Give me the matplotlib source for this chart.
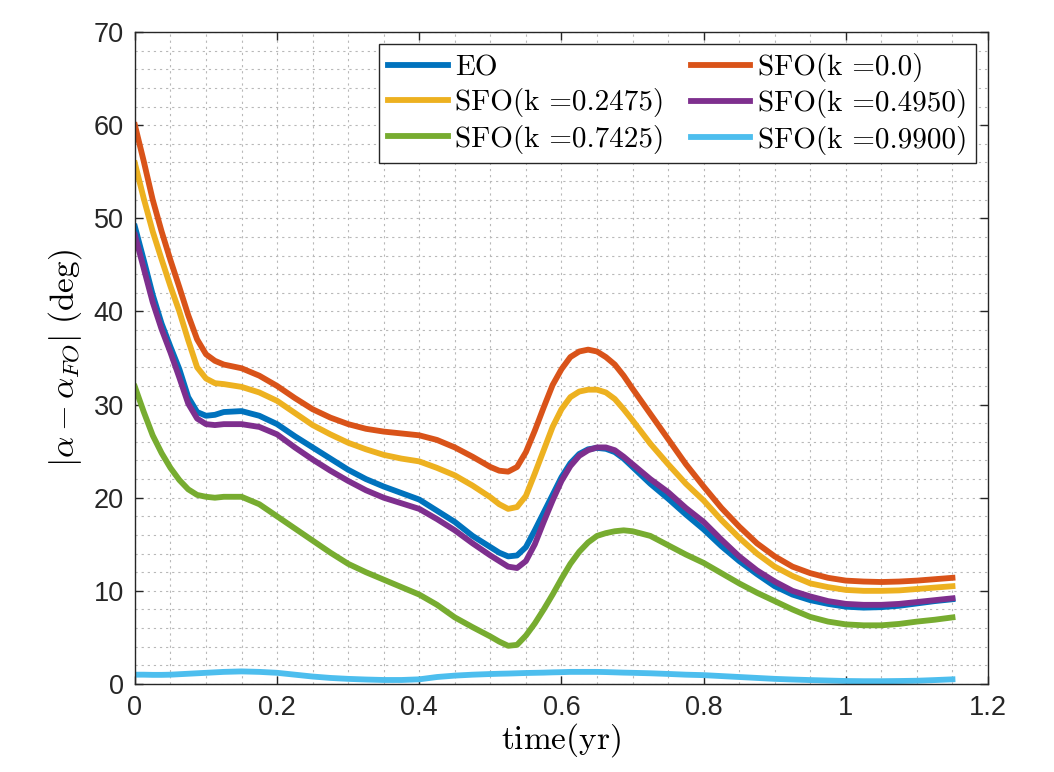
import matplotlib
matplotlib.use("Agg")
import matplotlib.pyplot as plt
from matplotlib.ticker import MultipleLocator

plt.rcParams['font.family'] = ['Liberation Sans', 'DejaVu Sans']
plt.rcParams['mathtext.fontset'] = 'cm'

# time (yr)
t = [0, 0.0125, 0.025, 0.0375, 0.05, 0.0625, 0.075, 0.0875, 0.1, 0.1125,
     0.125, 0.15, 0.175, 0.2, 0.225, 0.25, 0.275, 0.3, 0.325, 0.35,
     0.375, 0.4, 0.425, 0.45, 0.475, 0.5, 0.5125, 0.525, 0.5375, 0.55,
     0.5625, 0.575, 0.5875, 0.6, 0.6125, 0.625, 0.6375, 0.65, 0.6625, 0.675,
     0.6875, 0.7, 0.725, 0.75, 0.775, 0.8, 0.825, 0.85, 0.875, 0.9,
     0.925, 0.95, 0.975, 1.0, 1.025, 1.05, 1.075, 1.1, 1.125, 1.15]

eo = [49.1, 45.5, 41.8, 38.7, 36.2, 33.8, 30.8, 29.2, 28.8, 28.9,
      29.2, 29.3, 28.8, 27.9, 26.6, 25.4, 24.2, 23.0, 22.0, 21.2,
      20.5, 19.8, 18.6, 17.4, 15.9, 14.7, 14.1, 13.7, 13.8, 14.7,
      16.5, 18.4, 20.3, 22.2, 23.7, 24.7, 25.2, 25.35, 25.25, 24.9,
      24.2, 23.3, 21.5, 19.9, 18.2, 16.6, 14.8, 13.2, 11.8, 10.5,
      9.6, 9.0, 8.6, 8.3, 8.2, 8.25, 8.4, 8.65, 8.9, 9.1]

sfo_0 = [60.0, 56.1, 52.0, 48.6, 45.5, 42.6, 39.6, 37.0, 35.4, 34.7,
         34.3, 33.9, 33.1, 32.0, 30.7, 29.5, 28.6, 27.9, 27.4, 27.1,
         26.9, 26.7, 26.2, 25.4, 24.4, 23.3, 22.9, 22.8, 23.3, 24.9,
         27.2, 29.7, 32.1, 33.8, 35.1, 35.7, 35.9, 35.7, 35.1, 34.3,
         33.1, 31.7, 29.0, 26.3, 23.6, 21.2, 18.9, 16.9, 15.1, 13.7,
         12.6, 11.9, 11.4, 11.1, 11.0, 10.95, 11.0, 11.1, 11.25, 11.4]

sfo_2475 = [55.9, 52.1, 48.6, 45.6, 42.7, 40.0, 36.9, 34.0, 32.8, 32.3,
            32.2, 31.9, 31.3, 30.4, 29.1, 27.8, 26.8, 25.9, 25.2, 24.6,
            24.2, 23.9, 23.2, 22.4, 21.3, 20.05, 19.3, 18.8, 19.0, 20.2,
            22.6, 25.1, 27.6, 29.5, 30.8, 31.4, 31.6, 31.6, 31.3, 30.6,
            29.5, 28.3, 25.8, 23.6, 21.5, 19.7, 17.6, 15.7, 14.0, 12.6,
            11.6, 10.8, 10.4, 10.1, 10.0, 10.0, 10.05, 10.2, 10.35, 10.5]

sfo_4950 = [48.2, 44.6, 41.0, 38.1, 35.6, 32.9, 30.1, 28.5, 27.9, 27.8,
            27.9, 27.9, 27.6, 26.8, 25.4, 24.1, 22.9, 21.8, 20.8, 20.0,
            19.4, 18.8, 17.7, 16.5, 15.1, 13.8, 13.2, 12.6, 12.45, 13.2,
            15.0, 17.4, 19.7, 21.8, 23.4, 24.5, 25.1, 25.4, 25.4, 25.1,
            24.4, 23.6, 22.0, 20.6, 18.9, 17.4, 15.5, 13.7, 12.2, 11.0,
            10.0, 9.4, 8.9, 8.6, 8.5, 8.5, 8.6, 8.8, 9.0, 9.2]

sfo_7425 = [31.9, 29.2, 26.7, 24.8, 23.2, 21.9, 20.9, 20.3, 20.1, 20.0,
            20.1, 20.1, 19.3, 18.0, 16.7, 15.4, 14.1, 12.9, 12.0, 11.2,
            10.4, 9.6, 8.5, 7.15, 6.1, 5.1, 4.55, 4.1, 4.2, 5.2,
            6.5, 8.0, 9.6, 11.3, 12.9, 14.2, 15.2, 15.9, 16.2, 16.4,
            16.5, 16.4, 15.9, 14.9, 13.9, 13.0, 11.9, 10.8, 9.8, 8.9,
            8.0, 7.2, 6.7, 6.4, 6.3, 6.3, 6.45, 6.7, 6.9, 7.15]

sfo_9900 = [1.0, 1.0, 0.98, 0.98, 1.0, 1.05, 1.1, 1.15, 1.2, 1.25,
            1.3, 1.35, 1.3, 1.2, 1.0, 0.8, 0.65, 0.55, 0.48, 0.43,
            0.43, 0.5, 0.75, 0.9, 1.0, 1.07, 1.1, 1.12, 1.15, 1.18,
            1.2, 1.22, 1.25, 1.27, 1.3, 1.3, 1.3, 1.3, 1.28, 1.25,
            1.22, 1.2, 1.15, 1.08, 1.0, 0.95, 0.85, 0.75, 0.65, 0.55,
            0.48, 0.42, 0.37, 0.32, 0.3, 0.3, 0.32, 0.35, 0.42, 0.5]

series = [
    (eo, '#0072BD', 'EO'),
    (sfo_0, '#D95319', 'SFO(k =0.0)'),
    (sfo_2475, '#EDB120', 'SFO(k =0.2475)'),
    (sfo_4950, '#7E2F8E', 'SFO(k =0.4950)'),
    (sfo_7425, '#77AC30', 'SFO(k =0.7425)'),
    (sfo_9900, '#4DBEEE', 'SFO(k =0.9900)'),
]

fig = plt.figure(figsize=(10.54, 7.72), dpi=100)
ax = fig.add_axes([0.128, 0.114, 0.8094, 0.8445])

lines = []
for vals, col, lab in series:
    ln, = ax.plot(t, vals, color=col, linewidth=4.2, label=lab)
    lines.append(ln)

ax.set_xlim(0, 1.2)
ax.set_ylim(0, 70)
ax.set_xticks([0, 0.2, 0.4, 0.6, 0.8, 1.0, 1.2])
ax.set_xticklabels(['0', '0.2', '0.4', '0.6', '0.8', '1', '1.2'])
ax.set_yticks(range(0, 71, 10))
ax.xaxis.set_minor_locator(MultipleLocator(0.05))
ax.yaxis.set_minor_locator(MultipleLocator(2))

ax.grid(True, which='both', linestyle=(0, (2, 3.5)), color='#b8b8b8', linewidth=0.8)
ax.set_axisbelow(True)
ax.tick_params(which='major', direction='in', length=6, width=1, top=True, right=True,
               labelsize=19.5, colors='#262626', pad=8)
ax.tick_params(which='minor', length=0)
for s in ax.spines.values():
    s.set_color('#262626')
    s.set_linewidth(1.0)

ax.set_xlabel(r'$\mathrm{time(yr)}$', fontsize=24, labelpad=0)
ax.set_ylabel(r'$|\alpha-\alpha_{FO}|\ (\mathrm{deg})$', fontsize=24, labelpad=7)

# row-wise order like the original legend
order = [0, 2, 4, 1, 3, 5]
leg = ax.legend([lines[i] for i in order], [series[i][2] for i in order],
                ncol=2, loc='upper right', prop={'family': 'cmr10', 'size': 21},
                frameon=True, fancybox=False, edgecolor='#262626', framealpha=1,
                borderaxespad=0.42, handlelength=2.05, handletextpad=0.25,
                columnspacing=0.9, labelspacing=0.25, borderpad=0.3)
leg.get_frame().set_linewidth(1.0)

fig.savefig('out.png', dpi=100, facecolor='white')
